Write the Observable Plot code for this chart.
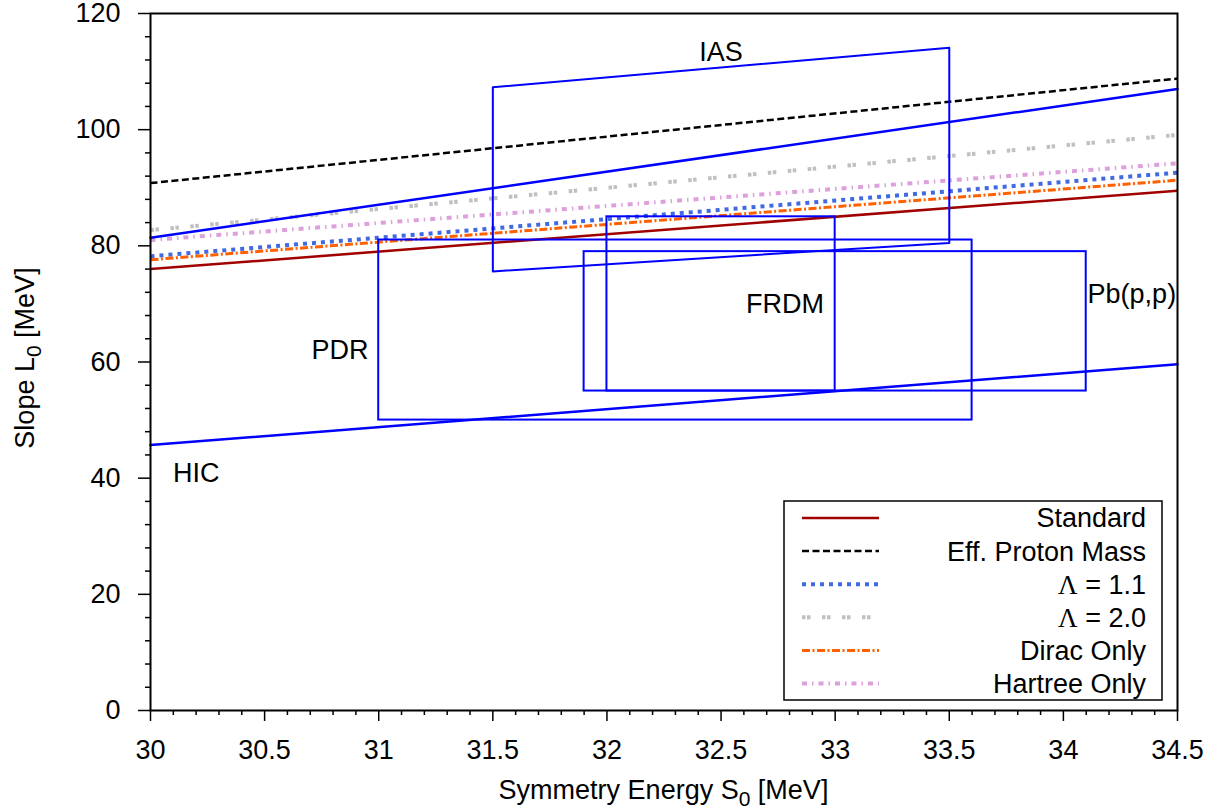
<!DOCTYPE html>
<html><head><meta charset="utf-8">
<script src="https://cdn.jsdelivr.net/npm/d3@7"></script>
<script src="https://cdn.jsdelivr.net/npm/@observablehq/plot@0.6"></script>
<style>
html,body{margin:0;padding:0;background:#fff;}
#chart{position:relative;width:1221px;height:811px;}
</style></head><body><div id="chart"></div>
<script>
// ---- data ----
const seriesNames = ["Standard", "Eff. Proton Mass", "Λ = 1.1", "Λ = 2.0", "Dirac Only", "Hartree Only"];
const S0 = [30, 34.5];
const standard = [76.0, 89.5];
const effProtonMass = [90.8, 108.8];
const lambda11 = [78.2, 92.6];
const lambda20 = [82.7, 99.1];
const diracOnly = [77.6, 91.3];
const hartreeOnly = [81.0, 94.2];

// rectangular constraints
const boxNames = ["PDR", "FRDM", "Pb(p,p)"];
const boxS0min = [31.0, 32.0, 31.9];
const boxS0max = [33.6, 33.0, 34.1];
const boxLmin = [50, 55, 55];
const boxLmax = [81, 85, 79];

// IAS parallelogram
const iasS0 = [31.5, 33.5];
const iasLow = [75.6, 80.5];
const iasHigh = [107.3, 114.1];

// HIC band
const hicS0 = [30, 34.5];
const hicLow = [45.7, 59.6];
const hicHigh = [81.4, 107.0];

// region labels (anchor in data units)
const labelNames = ["IAS", "FRDM", "Pb(p,p)", "PDR", "HIC"];
const labelS0 = [32.5, 32.78, 34.3, 30.83, 30.2];
const labelL0 = [113.3, 70.0, 71.6, 62.0, 40.8];

// ticks
const xMajor = [30, 30.5, 31, 31.5, 32, 32.5, 33, 33.5, 34, 34.5];
const yMajor = [0, 20, 40, 60, 80, 100, 120];

// ---- build tables ----
const seriesValues = [standard, effProtonMass, lambda11, lambda20, diracOnly, hartreeOnly];
const styles = [
  {stroke: "#a00000", strokeWidth: 2.5, dash: null},
  {stroke: "#000000", strokeWidth: 2.5, dash: "7,3.5"},
  {stroke: "#4169e1", strokeWidth: 4, dash: "4,5"},
  {stroke: "#c0c0c0", strokeWidth: 4, dash: "3.5,1.5,3.5,11.5"},
  {stroke: "#ff6000", strokeWidth: 3, dash: "8,2.5,2,2.5"},
  {stroke: "#dda0dd", strokeWidth: 4, dash: "5,5,1.5,5"}
];
const seriesRows = seriesNames.map((name, i) => S0.map((s, j) => ({series: name, S0: s, L0: seriesValues[i][j]})));

const boxes = boxNames.map((n, i) => ({name: n, x1: boxS0min[i], x2: boxS0max[i], y1: boxLmin[i], y2: boxLmax[i]}));
const iasPoly = [
  {S0: iasS0[0], L0: iasLow[0]}, {S0: iasS0[1], L0: iasLow[1]},
  {S0: iasS0[1], L0: iasHigh[1]}, {S0: iasS0[0], L0: iasHigh[0]},
  {S0: iasS0[0], L0: iasLow[0]}
];
const hicLowRows = hicS0.map((s, i) => ({S0: s, L0: hicLow[i]}));
const hicHighRows = hicS0.map((s, i) => ({S0: s, L0: hicHigh[i]}));
const labels = labelNames.map((n, i) => ({name: n, S0: labelS0[i], L0: labelL0[i]}));

const xMinor = d3.range(300, 346, 1).map(d => d / 10).filter(d => !xMajor.some(m => Math.abs(m - d) < 1e-6));
const yMinor = d3.range(0, 121, 4).filter(d => d % 20 !== 0);

const FONT = "'Liberation Sans', Arial, Helvetica, sans-serif";
const FS = 27;
const BLUE = "#0000ff";

const marks = [];
seriesRows.forEach((rows, i) => {
  marks.push(Plot.line(rows, {x: "S0", y: "L0", stroke: styles[i].stroke, strokeWidth: styles[i].strokeWidth,
    strokeDasharray: styles[i].dash || undefined, strokeLinecap: "butt"}));
});
marks.push(
  Plot.rect(boxes, {x1: "x1", x2: "x2", y1: "y1", y2: "y2", fill: "none", stroke: BLUE, strokeWidth: 2}),
  Plot.line(iasPoly, {x: "S0", y: "L0", stroke: BLUE, strokeWidth: 2}),
  Plot.line(hicLowRows, {x: "S0", y: "L0", stroke: BLUE, strokeWidth: 2.5}),
  Plot.line(hicHighRows, {x: "S0", y: "L0", stroke: BLUE, strokeWidth: 2.5}),
  Plot.text(labels, {x: "S0", y: "L0", text: "name", fontSize: FS, fill: "#000"}),
  Plot.axisX({ticks: xMajor, tickSize: 11, tickPadding: 18, strokeWidth: 1.5, fontSize: FS,
    tickFormat: d => String(+d.toFixed(1)), label: null}),
  Plot.axisX({ticks: xMinor, tickSize: 5, strokeWidth: 1.5, tickFormat: () => "", label: null}),
  Plot.axisY({ticks: yMajor, tickSize: 12, tickPadding: 18, strokeWidth: 1.5, fontSize: FS,
    tickFormat: d => String(d), label: null}),
  Plot.axisY({ticks: yMinor, tickSize: 5, strokeWidth: 1.5, tickFormat: () => "", label: null}),
  Plot.frame({stroke: "#000", strokeWidth: 2})
);

const svg = Plot.plot({
  width: 1221, height: 811,
  marginLeft: 150, marginRight: 44, marginTop: 13, marginBottom: 101,
  x: {domain: [30, 34.5]},
  y: {domain: [0, 120]},
  style: {fontFamily: FONT, fontSize: FS + "px", background: "#fff", color: "#000", overflow: "visible"},
  marks
});
document.getElementById("chart").appendChild(svg);

// ---- axis titles with subscripts ----
const s = d3.select(svg);
const xt = s.append("text").attr("x", 663.5).attr("y", 799).attr("text-anchor", "middle")
  .attr("font-family", FONT).attr("font-size", FS).attr("fill", "#000");
xt.append("tspan").text("Symmetry Energy S");
xt.append("tspan").attr("font-size", 21).attr("dy", 7).text("0");
xt.append("tspan").attr("dy", -7).text(" [MeV]");

const yt = s.append("text").attr("transform", "translate(34,358) rotate(-90)").attr("text-anchor", "middle")
  .attr("font-family", FONT).attr("font-size", FS).attr("fill", "#000");
yt.append("tspan").text("Slope L");
yt.append("tspan").attr("font-size", 21).attr("dy", 7).text("0");
yt.append("tspan").attr("dy", -7).text(" [MeV]");

// ---- legend ----
const lg = s.append("g");
lg.append("rect").attr("x", 784).attr("y", 501).attr("width", 378).attr("height", 199)
  .attr("fill", "#fff").attr("stroke", "#000").attr("stroke-width", 1.5);
seriesNames.forEach((name, i) => {
  const y = 518 + i * 33.1;
  lg.append("line").attr("x1", 802).attr("x2", 879).attr("y1", y).attr("y2", y)
    .attr("stroke", styles[i].stroke).attr("stroke-width", styles[i].strokeWidth)
    .attr("stroke-dasharray", styles[i].dash);
  const t = lg.append("text").attr("x", 1146).attr("y", y).attr("dy", "0.35em").attr("text-anchor", "end")
    .attr("font-family", FONT).attr("font-size", FS).attr("fill", "#000");
  if (name.startsWith("Λ")) {
    t.append("tspan").attr("font-family", "'Liberation Serif', 'DejaVu Serif', serif").text("Λ");
    t.append("tspan").text(name.slice(1));
  } else {
    t.text(name);
  }
});
</script></body></html>
